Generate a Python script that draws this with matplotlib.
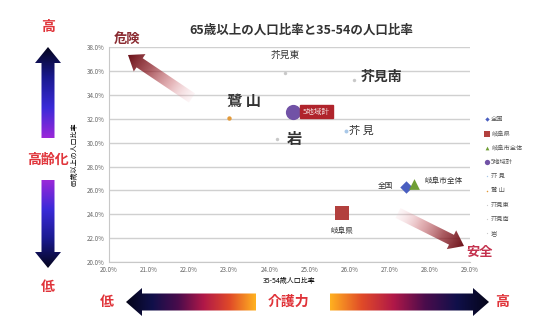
import numpy as np
import matplotlib
matplotlib.use('Agg')
import matplotlib.pyplot as plt
from matplotlib.colors import LinearSegmentedColormap
from matplotlib.patches import Polygon
from matplotlib.ticker import FuncFormatter

plt.rcParams['font.family'] = ['Noto Sans CJK JP', 'DejaVu Sans']

# 地域別データ（x: 35-54歳人口比率, y: 65歳以上人口比率, %）
names = ['全国', '岐阜県', '岐阜市全体', '5地域計', '芥 見', '鷺 山', '芥見東', '芥見南', '岩']
ratio_35_54 = [27.4, 25.8, 27.6, 24.6, 25.9, 23.0, 24.4, 26.1, 24.2]
ratio_65 = [26.3, 24.1, 26.5, 32.6, 31.0, 32.1, 35.8, 35.2, 30.3]

markers = ['D', 's', '^', 'o', 'o', 'o', 'o', 'o', 'o']
colors = ['#4a5fc0', '#b2403e', '#6f9e35', '#7152a6', '#a9c8e8', '#e39a3a',
          '#c8c8c8', '#c8c8c8', '#c8c8c8']
sizes = [40, 110, 60, 120, 8, 10, 6, 6, 6]

x_ticks = np.arange(20, 30, 1)
y_ticks = np.arange(20, 40, 2)

fig = plt.figure(figsize=(5.47, 3.2), dpi=100)
ax = fig.add_axes([0.199, 0.181, 0.660, 0.672])

for i, n in enumerate(names):
    ax.scatter(ratio_35_54[i], ratio_65[i], marker=markers[i], s=sizes[i],
               color=colors[i], label=n, zorder=3, linewidths=0)

ax.set_xlim(20, 29)
ax.set_ylim(20, 38)
ax.set_xticks(x_ticks)
ax.set_yticks(y_ticks)
fmt = FuncFormatter(lambda v, p: f'{v:.1f}%')
ax.xaxis.set_major_formatter(fmt)
ax.yaxis.set_major_formatter(fmt)
ax.tick_params(labelsize=4.5, colors='#666666', length=0, pad=3)
ax.grid(axis='y', color='#d0d0d0', linewidth=1)
for s in ['top', 'right']:
    ax.spines[s].set_visible(False)
for s in ['left', 'bottom']:
    ax.spines[s].set_color('#c8c8c8')
ax.set_xlabel('35-54歳人口比率', fontsize=5, labelpad=2)
ax.set_ylabel('65歳以上の人口比率', fontsize=5, labelpad=6)

# 点ラベル（オフセットはピクセル）
lab = [
    ('全国', -20, 1, 5.5, 'normal', 'center'),
    ('岐阜県', 0, -18, 5.5, 'normal', 'center'),
    ('岐阜市全体', 30, 3, 5.5, 'normal', 'center'),
    ('芥 見', 16, 0, 8, 'normal', 'center'),
    ('鷺 山', 15, 17, 11, 'bold', 'center'),
    ('芥見東', 0, 18, 7, 'normal', 'center'),
    ('芥見南', 28, 4, 10, 'bold', 'center'),
    ('岩', 17, 0, 11, 'bold', 'center'),
]
for n, dx, dy, fs, fw, ha in lab:
    i = names.index(n)
    ax.annotate(n, (ratio_35_54[i], ratio_65[i]), xytext=(dx, dy),
                textcoords='offset pixels', ha=ha, va='center',
                fontsize=fs, fontweight=fw, color='#333333', zorder=4)
i = names.index('5地域計')
ax.annotate('5地域計', (ratio_35_54[i], ratio_65[i]), xytext=(23, 0),
            textcoords='offset pixels', ha='center', va='center',
            fontsize=5.5, color='#f3dede', zorder=4,
            bbox=dict(boxstyle='square,pad=0.35', fc='#b0242c', ec='#b0242c'))

fig.text(0.55, 0.905, '65歳以上の人口比率と35-54の人口比率', ha='center', va='center',
         fontsize=9, fontweight='bold', color='#333333')

leg = ax.legend(loc='upper left', bbox_to_anchor=(0.882, 0.648),
                bbox_transform=fig.transFigure, frameon=False, fontsize=4.5,
                markerscale=0.35, handletextpad=0.2, labelspacing=1.0,
                handlelength=0.8, borderaxespad=0)
for t in leg.get_texts():
    t.set_color('#555555')

# 装飾用の矢印（ピクセル座標のオーバーレイ）
ov = fig.add_axes([0, 0, 1, 1], zorder=5)
ov.set_xlim(0, 547)
ov.set_ylim(320, 0)
ov.axis('off')
ov.patch.set_alpha(0)


def grad_arrow(tail, head, sw, hw, hl, cmap, alpha=None):
    tail = np.array(tail, float)
    head = np.array(head, float)
    d = head - tail
    L = np.hypot(*d)
    u = d / L
    nv = np.array([-u[1], u[0]])
    b = head - u * hl
    pts = [tail + nv * sw / 2, b + nv * sw / 2, b + nv * hw / 2, head,
           b - nv * hw / 2, b - nv * sw / 2, tail - nv * sw / 2]
    pts = np.array(pts)
    x0, y0 = pts.min(axis=0) - 1
    x1, y1 = pts.max(axis=0) + 1
    gx, gy = np.meshgrid(np.linspace(x0, x1, int(x1 - x0) * 2),
                         np.linspace(y0, y1, int(y1 - y0) * 2))
    t = np.clip(((gx - tail[0]) * u[0] + (gy - tail[1]) * u[1]) / L, 0, 1)
    rgba = cmap(t)
    if alpha is not None:
        rgba[..., 3] = alpha[0] + (alpha[1] - alpha[0]) * t
    poly = Polygon(pts, closed=True, fc='none', ec='none')
    ov.add_patch(poly)
    im = ov.imshow(rgba, extent=(x0, x1, y1, y0), origin='upper',
                   interpolation='bilinear', aspect='auto')
    im.set_clip_path(poly)


cm_v = LinearSegmentedColormap.from_list('v', ['#9a28d8', '#3a2ad8', '#1a1a90', '#05051e'])
cm_h = LinearSegmentedColormap.from_list('h', ['#ffb020', '#e04a28', '#b01848', '#4a0c4c',
                                               '#10104a', '#05051a'])
cm_r = LinearSegmentedColormap.from_list('r', ['#f4c4cc', '#c2545c', '#8a1c24', '#6a1018'])

grad_arrow((48, 138), (48, 47), 13, 26, 16, cm_v)
grad_arrow((48, 180), (48, 268), 13, 26, 16, cm_v)
grad_arrow((256, 302), (126, 302), 17, 28, 16, cm_h)
grad_arrow((330, 302), (489, 302), 17, 28, 16, cm_h)
grad_arrow((192, 98), (128, 55), 11, 21, 14, cm_r, alpha=(0.15, 1.0))
grad_arrow((398, 213), (464, 246), 11, 21, 14, cm_r, alpha=(0.15, 1.0))
ov.set_xlim(0, 547)
ov.set_ylim(320, 0)

red = '#e0343a'
ov.text(48, 27, '高', color=red, fontsize=10, fontweight='bold', ha='center', va='center')
ov.text(48, 160, '高齢化', color=red, fontsize=10, fontweight='bold', ha='center', va='center')
ov.text(48, 287, '低', color=red, fontsize=10, fontweight='bold', ha='center', va='center')
ov.text(107, 302, '低', color=red, fontsize=10, fontweight='bold', ha='center', va='center')
ov.text(288, 302, '介護力', color=red, fontsize=10, fontweight='bold', ha='center', va='center')
ov.text(502, 302, '高', color=red, fontsize=10, fontweight='bold', ha='center', va='center')
ov.text(127, 39, '危険', color='#8a2a30', fontsize=9.5, fontweight='bold', ha='center', va='center')
ov.text(480, 252, '安全', color='#c4324e', fontsize=9.5, fontweight='bold', ha='center', va='center')

fig.savefig('out.png', dpi=100)
